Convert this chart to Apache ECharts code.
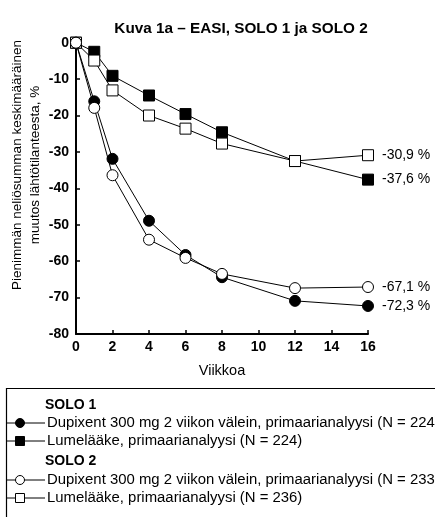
<!DOCTYPE html>
<html>
<head>
<meta charset="utf-8">
<script src="https://cdn.jsdelivr.net/npm/echarts@6/dist/echarts.min.js"></script>
<style>
  html, body { margin: 0; padding: 0; background: #fff; }
  #chart { width: 435px; height: 517px; }
</style>
</head>
<body>
<div id="chart"></div>
<script>
// Weeks of treatment
const weeks = [0, 1, 2, 4, 6, 8, 12, 16];

// LS mean % change from baseline in EASI
const solo1Dupixent = [0, -16.1, -31.9, -48.9, -58.3, -64.4, -70.9, -72.3];
const solo1Placebo  = [0, -2.5, -9.1, -14.5, -19.6, -24.6, -32.5, -37.6];
const solo2Dupixent = [0, -17.9, -36.4, -54.1, -59.1, -63.5, -67.4, -67.1];
const solo2Placebo  = [0, -4.9, -13.1, -20.0, -23.6, -27.7, -32.5, -30.9];

const FONT = 'Liberation Sans, Arial, sans-serif';

function fmt(v) {
  return v.toFixed(1).replace('.', ',') + ' %';
}

function makeSeries(name, values, symbol, filled) {
  const last = values.length - 1;
  return {
    name: name,
    type: 'line',
    data: weeks.map((w, i) => [w, values[i]]),
    symbol: symbol,
    symbolSize: 11,
    showAllSymbol: true,
    lineStyle: { color: '#000', width: 1 },
    itemStyle: {
      color: filled ? '#000' : '#fff',
      borderColor: '#000',
      borderWidth: 1
    },
    label: {
      show: true,
      position: 'right',
      distance: 8,
      color: '#000',
      fontFamily: FONT,
      fontSize: 14,
      formatter: p => (p.dataIndex === last ? fmt(p.value[1]) : '')
    },
    emphasis: { disabled: true },
    animation: false,
    z: 2
  };
}

const chart = echarts.init(document.getElementById('chart'), null, { renderer: 'canvas' });

const legendRows = [
  { y: 405, head: 'SOLO 1' },
  { y: 423, text: 'Dupixent 300 mg 2 viikon välein, primaarianalyysi (N = 224)', shape: 'circle', filled: true },
  { y: 441, text: 'Lumelääke, primaarianalyysi (N = 224)', shape: 'rect', filled: true },
  { y: 461, head: 'SOLO 2' },
  { y: 480, text: 'Dupixent 300 mg 2 viikon välein, primaarianalyysi (N = 233)', shape: 'circle', filled: false },
  { y: 498, text: 'Lumelääke, primaarianalyysi (N = 236)', shape: 'rect', filled: false }
];

const legendGraphics = [
  {
    type: 'rect',
    shape: { x: 6.5, y: 388.5, width: 460, height: 160 },
    style: { fill: 'none', stroke: '#000', lineWidth: 1.2 }
  }
];
legendRows.forEach(r => {
  if (r.head) {
    legendGraphics.push({
      type: 'text', x: 45, y: r.y,
      style: { text: r.head, font: 'bold 14px ' + FONT, fill: '#000', textVerticalAlign: 'middle' }
    });
    return;
  }
  legendGraphics.push({
    type: 'line',
    shape: { x1: 7, y1: r.y, x2: 45, y2: r.y },
    style: { stroke: '#000', lineWidth: 1 }
  });
  if (r.shape === 'circle') {
    legendGraphics.push({
      type: 'circle',
      shape: { cx: 20, cy: r.y, r: 4.5 },
      style: { fill: r.filled ? '#000' : '#fff', stroke: '#000', lineWidth: 1 }
    });
  } else {
    legendGraphics.push({
      type: 'rect',
      shape: { x: 15.5, y: r.y - 4.5, width: 9, height: 9 },
      style: { fill: r.filled ? '#000' : '#fff', stroke: '#000', lineWidth: 1 }
    });
  }
  legendGraphics.push({
    type: 'text', x: 47, y: r.y,
    style: { text: r.text, font: '14.9px ' + FONT, fill: '#000', textVerticalAlign: 'middle' }
  });
});

const option = {
  backgroundColor: '#fff',
  animation: false,
  title: {
    text: 'Kuva 1a – EASI, SOLO 1 ja SOLO 2',
    left: 236,
    top: 16,
    textAlign: 'center',
    textStyle: { fontFamily: FONT, fontSize: 15.3, fontWeight: 'bold', color: '#000' }
  },
  grid: { left: 76, top: 42.7, width: 292, height: 291.3 },
  xAxis: {
    type: 'value',
    min: 0, max: 16, interval: 2,
    name: 'Viikkoa',
    nameLocation: 'middle',
    nameGap: 29,
    nameTextStyle: { fontFamily: FONT, fontSize: 14.5, color: '#000' },
    axisLine: { show: true, onZero: false, lineStyle: { color: '#000', width: 2 } },
    axisTick: { show: true, inside: true, length: 4, lineStyle: { color: '#000', width: 1.5 } },
    axisLabel: { fontFamily: FONT, fontSize: 14, fontWeight: 'bold', color: '#000', margin: 6 },
    splitLine: { show: false }
  },
  yAxis: {
    type: 'value',
    min: -80, max: 0, interval: 10,
    axisLine: { show: true, onZero: false, lineStyle: { color: '#000', width: 2 } },
    axisTick: { show: true, inside: true, length: 4, lineStyle: { color: '#000', width: 1.5 } },
    axisLabel: { fontFamily: FONT, fontSize: 14, fontWeight: 'bold', color: '#000', margin: 7 },
    splitLine: { show: false }
  },
  graphic: [
    {
      type: 'text',
      x: 8, y: 165,
      rotation: Math.PI / 2,
      style: {
        text: 'Pienimmän neliösumman keskimääräinen\nmuutos lähtötilanteesta, %',
        font: '13.5px ' + FONT,
        fill: '#000',
        textAlign: 'center',
        textVerticalAlign: 'top',
        lineHeight: 18
      }
    }
  ].concat(legendGraphics),
  series: [
    makeSeries('SOLO 1 Lumelääke', solo1Placebo, 'rect', true),
    makeSeries('SOLO 2 Lumelääke', solo2Placebo, 'rect', false),
    makeSeries('SOLO 1 Dupixent', solo1Dupixent, 'circle', true),
    makeSeries('SOLO 2 Dupixent', solo2Dupixent, 'circle', false)
  ]
};

chart.setOption(option);
</script>
</body>
</html>
